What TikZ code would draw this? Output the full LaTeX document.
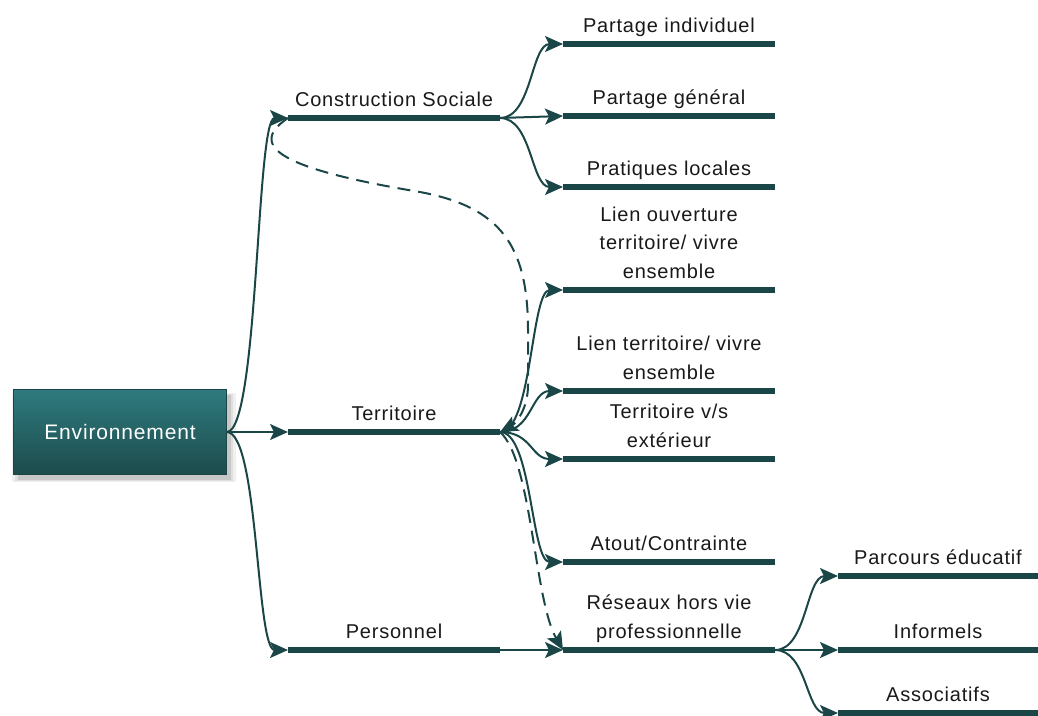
\documentclass[tikz,border=0pt]{standalone}
\usepackage{fontspec}
\setmainfont{Liberation Sans}[LetterSpace=4]
\usepackage{tikz}
\usetikzlibrary{arrows.meta, shadows, positioning}

\definecolor{pine}{RGB}{27,70,71}
\definecolor{pinetop}{RGB}{46,122,126}
\definecolor{pinebottom}{RGB}{29,75,76}

\begin{document}
\begin{tikzpicture}[
        x=1pt, y=-1pt,
        font=\fontsize{20}{28.5}\selectfont,
        bar/.style={draw=pine, line width=6pt},
        topic/.style={align=center, text=black!90, inner xsep=0pt, inner ysep=12pt,
            text depth=0pt, outer sep=0pt, anchor=south, minimum width=212pt,
            append after command={(\tikzlastnode.south west) edge[bar] (\tikzlastnode.south east)}},
        subtopic/.style={topic, minimum width=200pt},
        root/.style={minimum width=213pt, minimum height=85pt, draw=pine, thin,
            top color=pinetop, bottom color=pinebottom, text=white,
            font=\fontsize{21}{25}\selectfont,
            drop shadow={shadow xshift=4pt, shadow yshift=-5pt, opacity=0.12, shadow scale=1.05},
            drop shadow={shadow xshift=4pt, shadow yshift=-5pt, opacity=0.15, shadow scale=1.025},
            drop shadow={shadow xshift=4pt, shadow yshift=-5pt, opacity=0.25}},
        link/.style={draw=pine, line width=2pt, -{Stealth[length=18pt, width=16pt, inset=4pt]}},
        relation/.style={link, dash pattern=on 13pt off 8pt}
    ]
    \useasboundingbox (0,0) rectangle (1038,715);

    % Nodes
    \node[root] (env) at (120,432) {Environnement};

    \node[topic] (social) at (394,118) {Construction Sociale};
    \node[topic] (terr) at (394,432) {Territoire};
    \node[topic] (perso) at (394,650) {Personnel};

    \node[topic] (indiv) at (669,44) {Partage individuel};
    \node[topic] (general) at (669,116) {Partage général};
    \node[topic] (locales) at (669,187) {Pratiques locales};

    \node[topic] (ouverture) at (669,290) {Lien ouverture\\ territoire/ vivre\\ ensemble};
    \node[topic] (lien) at (669,391) {Lien territoire/ vivre\\ ensemble};
    \node[topic] (exterieur) at (669,459) {Territoire v/s\\ extérieur};
    \node[topic] (atout) at (669,562) {Atout/Contrainte};

    \node[topic] (reseaux) at (669,650) {Réseaux hors vie\\ professionnelle};

    \node[subtopic] (parcours) at (938,576) {Parcours éducatif};
    \node[subtopic] (informels) at (938,650) {Informels};
    \node[subtopic] (assoc) at (938,713) {Associatifs};

    % Arrows
    \draw[link] (env.east) .. controls +(32,0) and +(-32,0) .. (social.south west);
    \draw[link] (env.east) -- (terr.south west);
    \draw[link] (env.east) .. controls +(32,0) and +(-32,0) .. (perso.south west);

    \foreach \t in {indiv, locales}
        \draw[link] (social.south east) .. controls +(32,0) and +(-32,0) .. (\t.south west);
    \draw[link] (social.south east) -- (general.south west);

    \foreach \t in {ouverture, lien, exterieur, atout}
        \draw[link] (terr.south east) .. controls +(32,0) and +(-32,0) .. (\t.south west);

    \draw[link] (perso.south east) -- (reseaux.south west);

    \foreach \t in {parcours, assoc}
        \draw[link] (reseaux.south east) .. controls +(32,0) and +(-32,0) .. (\t.south west);
    \draw[link] (reseaux.south east) -- (informels.south west);

    % Dashed relations
    \draw[relation] (social.south west) .. controls (240,150) and (300,172) .. (420,192)
        .. controls (500,207) and (528,245) .. (528,330) -- (528,385)
        .. controls (528,410) and (515,424) .. (terr.south east);
    \draw[relation] (terr.south east) .. controls (532,460) and (534,600) .. (reseaux.south west);

\end{tikzpicture}
\end{document}
